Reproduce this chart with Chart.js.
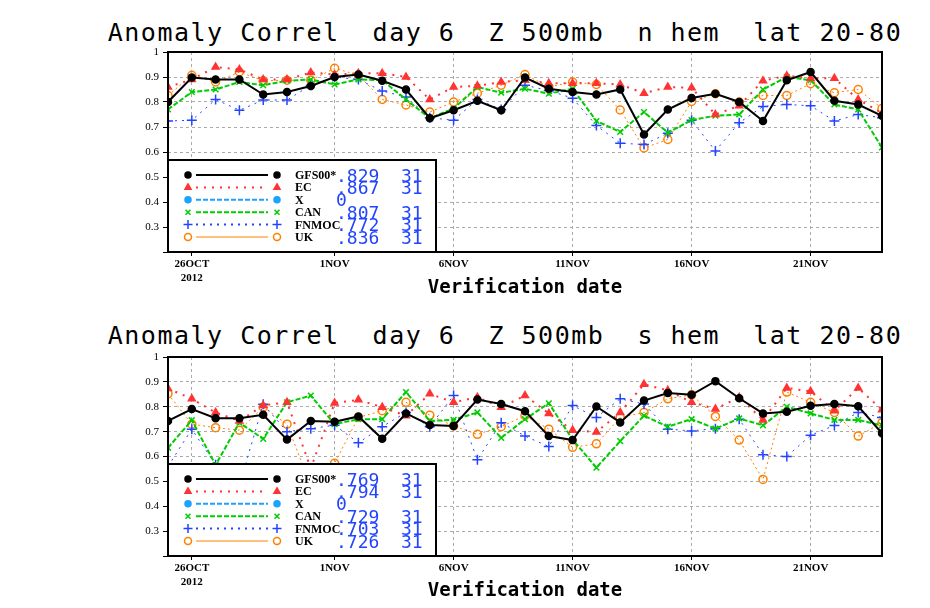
<!DOCTYPE html>
<html>
<head>
<meta charset="utf-8">
<script src="https://cdn.jsdelivr.net/npm/chart.js@4"></script>
<style>
  body { margin: 0; background: #fff; width: 930px; height: 608px; position: relative; overflow: hidden; }
  .box { position: absolute; left: 0; width: 930px; height: 304px; }
  .ttl { position: absolute; left: 0; width: 930px; text-align: center; font: 25px "DejaVu Sans Mono", monospace; letter-spacing: 1.5px; white-space: pre; color: #000; padding-left: 80px; box-sizing: border-box; }
  .xt { position: absolute; left: 168px; width: 714px; text-align: center; font: bold 19px "DejaVu Sans Mono", monospace; color: #000; }
</style>
</head>
<body>
<div class="ttl" style="top:18px">Anomaly Correl  day 6  Z 500mb  n hem  lat 20-80</div>
<div class="ttl" style="top:321px">Anomaly Correl  day 6  Z 500mb  s hem  lat 20-80</div>
<div class="box" style="top:0"><canvas id="nh"></canvas></div>
<div class="box" style="top:304px"><canvas id="sh"></canvas></div>
<div class="xt" style="top:275px">Verification date</div>
<div class="xt" style="top:578px">Verification date</div>
<script>
// days 25 Oct .. 24 Nov 2012 (index 0..30)
var dayIndex = [];
for (var d = 0; d <= 30; d++) dayIndex.push(d);
var tickDays = [1, 7, 12, 17, 22, 27];
var tickLabels = [['26OCT', '2012'], '1NOV', '6NOV', '11NOV', '16NOV', '21NOV'];

var models = ['GFS00*', 'EC', 'X', 'CAN', 'FNMOC', 'UK'];

// northern hemisphere
var nhGFS = [0.80,0.898,0.89,0.89,0.83,0.84,0.864,0.90,0.91,0.885,0.85,0.735,0.767,0.805,0.767,0.898,
             0.853,0.84,0.83,0.85,0.67,0.77,0.816,0.833,0.80,0.724,0.887,0.92,0.805,0.79,0.745];
var nhEC = [0.86,0.89,0.94,0.93,0.89,0.89,0.918,0.91,0.915,0.915,0.90,0.81,0.86,0.865,0.88,0.887,
            0.875,0.875,0.875,0.87,0.835,0.86,0.857,0.75,0.785,0.885,0.905,0.895,0.895,0.81,0.755];
var nhCAN = [0.77,0.84,0.85,0.88,0.867,0.885,0.89,0.87,0.89,0.887,0.81,0.735,0.774,0.86,0.837,0.853,
             0.833,0.853,0.724,0.68,0.76,0.677,0.728,0.745,0.75,0.85,0.90,0.887,0.79,0.77,0.618];
var nhFNMOC = [0.724,0.727,0.81,0.767,0.808,0.808,0.867,0.90,0.89,0.844,0.82,0.737,0.727,0.81,0.77,0.867,
               0.846,0.815,0.706,0.635,0.63,0.675,0.727,0.604,0.717,0.782,0.79,0.785,0.724,0.75,0.737];
var nhUK = [0.826,0.907,0.88,0.92,0.885,0.887,0.887,0.935,0.907,0.81,0.788,0.76,0.80,0.835,0.867,0.91,
            0.86,0.88,0.87,0.768,0.616,0.65,0.802,0.833,0.80,0.826,0.826,0.873,0.837,0.85,0.774];
var nhScores = ['.829  31', '.867  31', '0', '.807  31', '.772  31', '.836  31'];

// southern hemisphere
var shGFS = [0.743,0.791,0.754,0.754,0.768,0.668,0.743,0.74,0.761,0.671,0.773,0.727,0.723,0.829,0.811,0.782,
             0.682,0.666,0.801,0.737,0.825,0.855,0.848,0.903,0.834,0.773,0.78,0.804,0.811,0.802,0.693];
var shEC = [0.873,0.832,0.777,0.743,0.805,0.818,0.553,0.815,0.828,0.798,0.764,0.852,0.818,0.838,0.798,0.845,
            0.773,0.706,0.698,0.777,0.89,0.866,0.818,0.791,0.838,0.747,0.875,0.862,0.784,0.875,0.788];
var shCAN = [0.635,0.746,0.566,0.736,0.671,0.818,0.845,0.73,0.75,0.75,0.859,0.743,0.747,0.777,0.675,0.75,
             0.814,0.668,0.555,0.662,0.764,0.72,0.75,0.712,0.753,0.725,0.80,0.773,0.747,0.747,0.725];
var shFNMOC = [0.56,0.71,0.567,0.485,0.81,0.70,0.712,0.726,0.655,0.72,0.777,0.72,0.845,0.587,0.736,0.682,
               0.64,0.805,0.757,0.832,0.811,0.71,0.703,0.712,0.75,0.607,0.60,0.685,0.725,0.777,0.757];
var shUK = [0.852,0.73,0.716,0.706,0.798,0.73,0.48,0.573,0.757,0.784,0.818,0.766,0.723,0.689,0.72,0.764,
            0.71,0.637,0.651,0.757,0.777,0.832,0.848,0.761,0.666,0.508,0.859,0.818,0.777,0.682,0.736];
var shScores = ['.769  31', '.794  31', '0', '.729  31', '.703  31', '.726  31'];

var styles = [
  { color: '#000000', point: 'circle', fill: true, dash: [], width: 2, r: 3.5 },
  { color: '#ff3333', point: 'triangle', fill: true, dash: [2, 6], width: 2, r: 4 },
  { color: '#1aa3ff', point: 'circle', fill: true, dash: [5, 2], width: 2, r: 3.5 },
  { color: '#00cc00', point: 'crossRot', fill: false, dash: [5, 2], width: 2, r: 4 },
  { color: '#2244ff', point: 'cross', fill: false, dash: [2, 5], width: 1, r: 5 },
  { color: '#ff8000', point: 'circle', fill: false, dash: [2, 3], width: 1, r: 4 }
];

function pts(arr) { return arr.map(function (v, i) { return { x: dayIndex[i], y: v }; }); }

var framePlugin = {
  id: 'frame',
  afterDraw: function (chart) {
    var ctx = chart.ctx, a = chart.chartArea, sc = chart.options.plugins.frame.scores;
    ctx.save();
    ctx.strokeStyle = '#000'; ctx.lineWidth = 2;
    ctx.strokeRect(a.left, a.top, a.right - a.left, a.bottom - a.top);
    // legend box
    var bx = a.left, by = a.bottom - 92;
    ctx.fillStyle = '#fff';
    ctx.fillRect(bx, by, 268, 92);
    ctx.strokeRect(bx, by, 268, 92);
    for (var k = 0; k < 6; k++) {
      var st = styles[k], y = by + 15 + k * 12.4;
      ctx.strokeStyle = st.color; ctx.lineWidth = k == 5 ? 1 : 2;
      ctx.setLineDash(k == 5 ? [] : st.dash);
      ctx.beginPath(); ctx.moveTo(bx + 28, y); ctx.lineTo(bx + 100, y); ctx.stroke();
      ctx.setLineDash([]);
      [bx + 20, bx + 109].forEach(function (mx) {
        ctx.fillStyle = st.fill ? st.color : '#fff';
        ctx.strokeStyle = st.color;
        ctx.lineWidth = 1.5;
        Chart.helpers.drawPoint(ctx, { pointStyle: st.point, radius: st.r - 0.5, borderWidth: 1.5 }, mx, y);
      });
      ctx.fillStyle = '#000';
      ctx.font = 'bold 12px "Liberation Serif", serif';
      ctx.textBaseline = 'middle';
      ctx.fillText(models[k], bx + 127, y + 1);
      ctx.fillStyle = '#2244ff';
      ctx.font = '18px "DejaVu Sans Mono", monospace';
      ctx.fillText(sc[k], bx + 168, y + 2);
    }
    ctx.restore();
  }
};

function makeChart(id, series, scores, padTop) {
  var ds = series.map(function (arr, k) {
    var st = styles[k];
    return {
      label: models[k], data: pts(arr), borderColor: st.color, borderWidth: st.width,
      borderDash: st.dash, pointStyle: st.point, pointRadius: st.r, pointBorderWidth: 1.5,
      pointBorderColor: st.color, pointBackgroundColor: st.fill ? st.color : 'rgba(0,0,0,0)',
      tension: 0, fill: false
    };
  });
  new Chart(document.getElementById(id), {
    type: 'line',
    data: { datasets: ds },
    options: {
      responsive: false, animation: false,
      layout: { padding: { top: padTop, right: 48, left: 0, bottom: 0 } },
      plugins: { legend: { display: false }, tooltip: { enabled: false }, frame: { scores: scores } },
      scales: {
        x: {
          type: 'linear', min: 0, max: 30,
          afterBuildTicks: function (s) { s.ticks = tickDays.map(function (v) { return { value: v }; }); },
          afterFit: function (s) { s.height = 52; },
          grid: { color: '#aaaaaa', drawTicks: true, tickLength: 4, tickColor: '#000' },
          border: { display: false, dash: [3, 3] },
          ticks: {
            maxRotation: 0, autoSkip: false, color: '#000', padding: 2,
            font: { family: '"Liberation Serif", serif', size: 11, weight: 'bold' },
            callback: function (v) { return tickLabels[tickDays.indexOf(v)]; }
          }
        },
        y: {
          min: 0.2, max: 1,
          afterFit: function (s) { s.width = 168; },
          grid: { color: '#aaaaaa', tickLength: 5, tickColor: '#000' },
          border: { display: false, dash: [3, 3] },
          ticks: {
            stepSize: 0.1, color: '#000', padding: 4,
            font: { family: '"Liberation Serif", serif', size: 11 },
            callback: function (v) { var r = Math.round(v * 10) / 10; return r <= 0.2 ? '' : (r == 1 ? '1' : r.toFixed(1)); }
          }
        }
      }
    },
    plugins: [framePlugin]
  });
}

['nh', 'sh'].forEach(function (id) { var c = document.getElementById(id); c.width = 930; c.height = 304; });
makeChart('nh', [nhGFS, nhEC, [], nhCAN, nhFNMOC, nhUK], nhScores, 52);
makeChart('sh', [shGFS, shEC, [], shCAN, shFNMOC, shUK], shScores, 53);
</script>
</body>
</html>
